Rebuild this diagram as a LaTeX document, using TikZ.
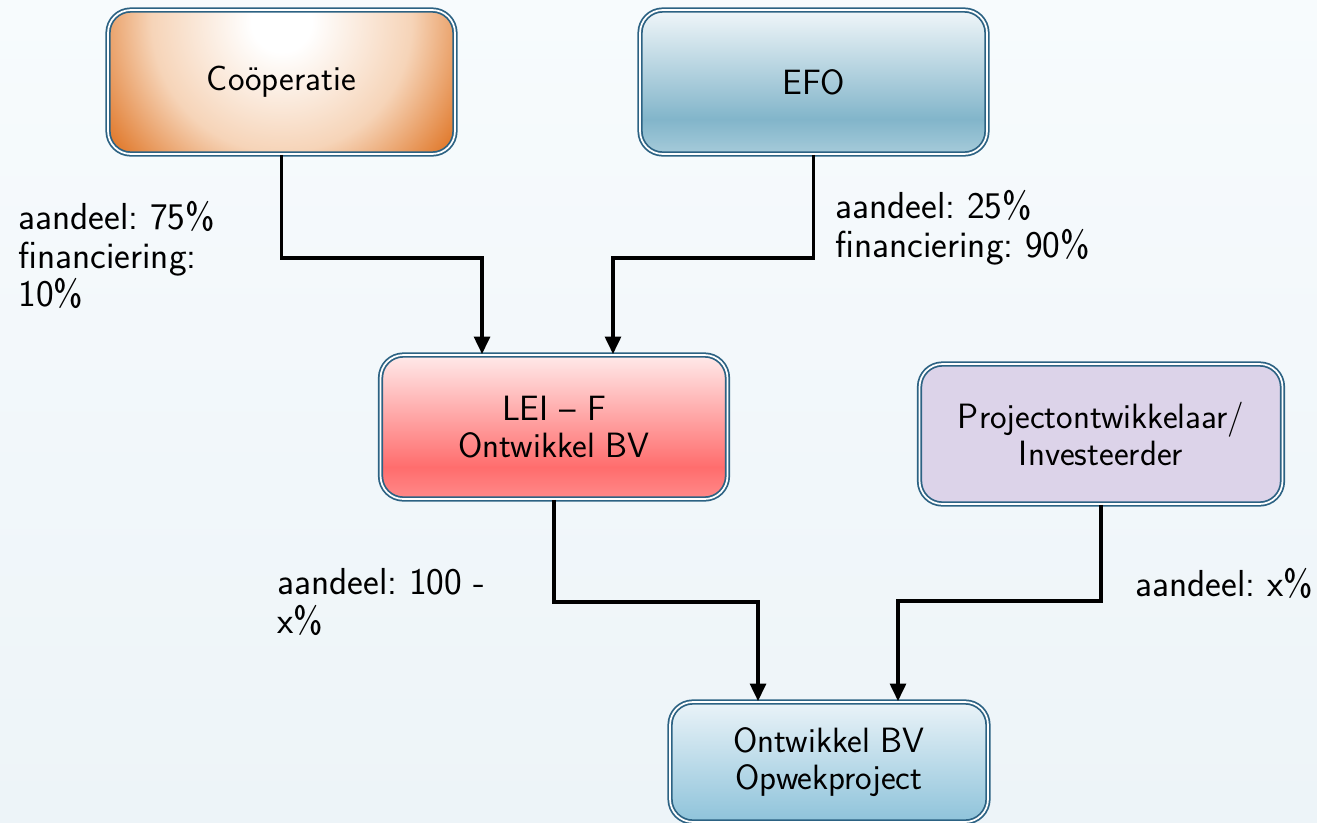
\documentclass[tikz,border=0pt]{standalone}
\usepackage{fontspec}
\usepackage{tikz}
\usetikzlibrary{arrows.meta,positioning,calc}
\definecolor{edge}{HTML}{2C6283}
\definecolor{bgtop}{HTML}{F7FBFD}
\definecolor{bgbot}{HTML}{EDF4F8}
\definecolor{cooporange}{HTML}{E0782A}
\definecolor{coopmid}{HTML}{F6D4B8}
\definecolor{efotop}{HTML}{F0F6F9}
\definecolor{efomid}{HTML}{82B5CA}
\definecolor{efobot}{HTML}{A6CBDA}
\definecolor{leitop}{HTML}{FFEAEA}
\definecolor{leimid}{HTML}{FF6D6D}
\definecolor{leibot}{HTML}{FF8A8A}
\definecolor{invfill}{HTML}{DCD3E9}
\definecolor{opwtop}{HTML}{EAF3F8}
\definecolor{opwbot}{HTML}{8EC3DA}
\pgfdeclareradialshading{coopglow}{\pgfpointorigin}{color(0bp)=(white); color(3bp)=(white); color(13bp)=(coopmid); color(21bp)=(cooporange); color(50bp)=(cooporange)}
\pgfdeclareverticalshading{efoshade}{100bp}{color(0bp)=(efobot); color(25bp)=(efobot); color(37bp)=(efomid); color(75bp)=(efotop); color(100bp)=(efotop)}
\pgfdeclareverticalshading{leishade}{100bp}{color(0bp)=(leibot); color(25bp)=(leibot); color(36bp)=(leimid); color(75bp)=(leitop); color(100bp)=(leitop)}
\pgfdeclareverticalshading{opwshade}{100bp}{color(0bp)=(opwbot); color(25bp)=(opwbot); color(75bp)=(opwtop); color(100bp)=(opwtop)}

\begin{document}
\frenchspacing
\begin{tikzpicture}[x=0.02cm, y=-0.02cm,
  every node/.style={font=\sffamily\fontsize{20}{21.5}\selectfont},
  box/.style={draw=edge, double=white, double distance=1pt, line width=1pt, rounded corners=13pt, align=center, minimum width=6.94cm, minimum height=2.88cm},
  share/.style={align=left, anchor=north west, inner sep=0pt, font=\sffamily\fontsize{21.4}{22}\selectfont},
  link/.style={line width=2pt, -{Triangle[width=9pt,length=10pt]}}]
  % background
  \shade[top color=bgtop, bottom color=bgbot] (0,0) rectangle (1317,822);
  \useasboundingbox (0,0) rectangle (1317,822);

  % owners
  \node[box, path picture={\shade[shading=coopglow] ([yshift=-0.24cm]path picture bounding box.north) circle (5cm);}] (coop) at (281.5,82) {Coöperatie};
  \node[box, shade, shading=efoshade] (efo) at (813.5,82) {EFO};

  \node[box, shade, shading=leishade] (lei) at (554,427) {LEI -- F\\Ontwikkel BV};
  \node[box, fill=invfill, minimum width=7.26cm, minimum height=2.8cm] (inv) at (1101,434) {Projectontwikkelaar/\\Investeerder};

  \node[box, shade, shading=opwshade, minimum width=6.36cm, minimum height=2.4cm] (opw) at (829,762) {Ontwikkel BV\\Opwekproject};

  % shares
  \draw[link] (coop.south) -- ++(0,103) -| ([xshift=-1.44cm]lei.north);
  \draw[link] (efo.south) -- ++(0,103) -| ([xshift=1.18cm]lei.north);
  \draw[link] (lei.south) -- ++(0,102) -| ([xshift=-1.42cm]opw.north);
  \draw[link] (inv.south) -- ++(0,96) -| ([xshift=1.38cm]opw.north);

  \node[share] (coop-share) at (18,201) {aandeel: 75\%\\financiering:\\10\%};
  \node[share] (efo-share) at (835,190) {aandeel: 25\%\\financiering: 90\%};
  \node[share] (lei-share) at (277,568) {aandeel: 100 -\\x\%};
  \node[share] (inv-share) at (1135,568) {aandeel: x\%};
\end{tikzpicture}
\end{document}
